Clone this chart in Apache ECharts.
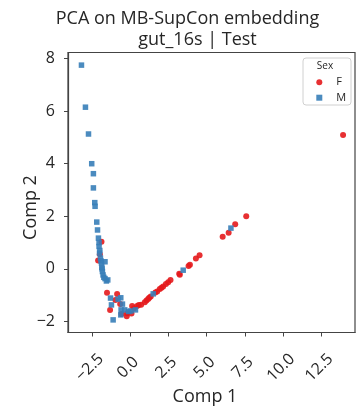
<!DOCTYPE html>
<html>
<head>
<meta charset="utf-8">
<script src="https://cdn.jsdelivr.net/npm/echarts@6/dist/echarts.min.js"></script>
<style>
  html, body { margin: 0; padding: 0; background: #fff; }
  #chart { width: 359px; height: 407px; }
</style>
</head>
<body>
<div id="chart"></div>
<script>
// PCA coordinates, [Comp 1, Comp 2]
const femalePts = [
  [-1.87, 1.03], [-1.98, 0.56], [-2.09, 0.32], [-1.51, -0.91], [-0.85, -0.96],
  [-0.96, -1.18], [-0.65, -1.34], [-1.31, -1.56], [-0.56, -1.72], [-0.20, -1.69],
  [-0.22, -1.80], [0.09, -1.70], [0.13, -1.41], [0.25, -1.50], [0.46, -1.41],
  [0.57, -1.37], [0.72, -1.36], [0.96, -1.27], [1.07, -1.20], [1.18, -1.15],
  [1.25, -1.10], [1.35, -1.05], [1.65, -0.90], [1.77, -0.86], [1.94, -0.77],
  [2.05, -0.72], [2.16, -0.67], [2.34, -0.58], [2.49, -0.51], [2.64, -0.42],
  [3.21, -0.19], [3.25, -0.22], [3.82, 0.11], [3.91, 0.16], [4.30, 0.39],
  [4.54, 0.52], [6.05, 1.22], [6.44, 1.37], [6.87, 1.70], [7.59, 2.00],
  [13.92, 5.09]
]
const malePts = [
  [-3.18, 7.75], [-2.92, 6.15], [-2.72, 5.13], [-2.51, 4.00], [-2.40, 3.62],
  [-2.40, 3.08], [-2.31, 2.52], [-2.29, 2.38], [-2.18, 1.78], [-2.13, 1.48],
  [-2.07, 1.17], [-2.03, 1.00], [-2.03, 0.85], [-1.98, 0.70], [-2.00, 0.60],
  [-1.94, 0.41], [-1.90, 0.30], [-1.64, 0.27], [-1.87, 0.22], [-1.85, 0.06],
  [-1.83, 0.00], [-1.81, -0.10], [-1.77, -0.23], [-1.72, -0.32], [-1.64, -0.37],
  [-1.55, -0.46], [-1.46, -0.42], [-1.28, -1.11], [-0.79, -1.15], [-0.61, -1.10],
  [-1.22, -1.37], [-0.50, -1.34], [-0.59, -1.56], [-0.35, -1.56], [-0.61, -1.75],
  [-1.11, -1.94], [-0.09, -1.62], [0.05, -1.60], [0.35, -1.56], [1.51, -0.95],
  [3.47, -0.05], [6.59, 1.55]
]
const xTicks = [-2.5, 0, 2.5, 5, 7.5, 10, 12.5]
const yTicks = [-2, 0, 2, 4, 6, 8]
const groupNames = ['F', 'M']

const FONT = '"Open Sans", "DejaVu Sans", sans-serif'
const INK = '#262626'

function minus (v, digits) {
  let s = Math.abs(v).toFixed(digits)
  return v < 0 ? '\u2212' + s : s
}

let chart = echarts.init(document.getElementById('chart'))
chart.setOption({
  animation: false,
  textStyle: { fontFamily: FONT },
  grid: {
    left: 68, right: 4, top: 52.5, bottom: 74.5,
    show: true, borderColor: '#444', borderWidth: 1.2, backgroundColor: '#fff'
  },
  xAxis: {
    type: 'value', min: -4.06, max: 14.7,
    splitLine: { show: false },
    axisLine: { show: true, onZero: false, lineStyle: { color: '#444', width: 1.2 } },
    axisTick: { show: true, length: 4, customValues: xTicks, lineStyle: { color: '#444' } },
    axisLabel: {
      customValues: xTicks, rotate: 45, margin: 33,
      align: 'center', verticalAlign: 'middle', padding: [0, 6, 0, 0],
      fontSize: 16, color: INK, fontFamily: FONT,
      formatter: v => minus(v, 1)
    }
  },
  yAxis: {
    type: 'value', min: -2.42, max: 8.23,
    splitLine: { show: false },
    axisLine: { show: true, onZero: false, lineStyle: { color: '#444', width: 1.2 } },
    axisTick: { show: true, length: 4, customValues: yTicks, lineStyle: { color: '#444' } },
    axisLabel: {
      customValues: yTicks, margin: 13,
      fontSize: 16, color: INK, fontFamily: FONT,
      formatter: v => minus(v, 0)
    }
  },
  legend: {
    data: [
      { name: groupNames[0], icon: 'circle' },
      { name: groupNames[1], icon: 'rect' }
    ],
    orient: 'vertical', left: 316.3, top: 76.3, padding: 0,
    itemWidth: 6, itemHeight: 6, itemGap: 3.4,
    textStyle: { fontSize: 11, lineHeight: 12, color: INK, fontFamily: FONT, padding: [0, 0, 0, 9] }
  },
  graphic: [
    {
      type: 'rect', z: 0, shape: { x: 303, y: 58, width: 48, height: 47, r: 3 },
      style: { fill: '#fff', stroke: '#d0d0d0', lineWidth: 1 }
    },
    {
      type: 'text', x: 325, y: 66.5,
      style: { text: 'Sex', fill: INK, font: '10px ' + FONT, align: 'center', verticalAlign: 'middle' }
    },
    {
      type: 'text', x: 187.5, y: 19,
      style: { text: 'PCA on MB-SupCon embedding', font: '18px ' + FONT, fill: INK, align: 'center', verticalAlign: 'middle' }
    },
    {
      type: 'text', x: 197.5, y: 40,
      style: { text: 'gut_16s | Test', font: '18px ' + FONT, fill: INK, align: 'center', verticalAlign: 'middle' }
    },
    {
      type: 'text', x: 205, y: 397,
      style: { text: 'Comp 1', font: '18px ' + FONT, fill: INK, align: 'center', verticalAlign: 'middle' }
    },
    {
      type: 'text', x: 31, y: 207.5, rotation: Math.PI / 2,
      style: { text: 'Comp 2', font: '18px ' + FONT, fill: INK, align: 'center', verticalAlign: 'middle' }
    }
  ],
  series: [
    {
      name: groupNames[0], type: 'scatter', symbol: 'circle', symbolSize: 6,
      itemStyle: { color: '#e41a1c', opacity: 0.9 },
      data: femalePts, z: 2
    },
    {
      name: groupNames[1], type: 'scatter', symbol: 'rect', symbolSize: 5.5,
      itemStyle: { color: '#377eb8', opacity: 0.9 },
      data: malePts, z: 3
    }
  ]
})
</script>
</body>
</html>
